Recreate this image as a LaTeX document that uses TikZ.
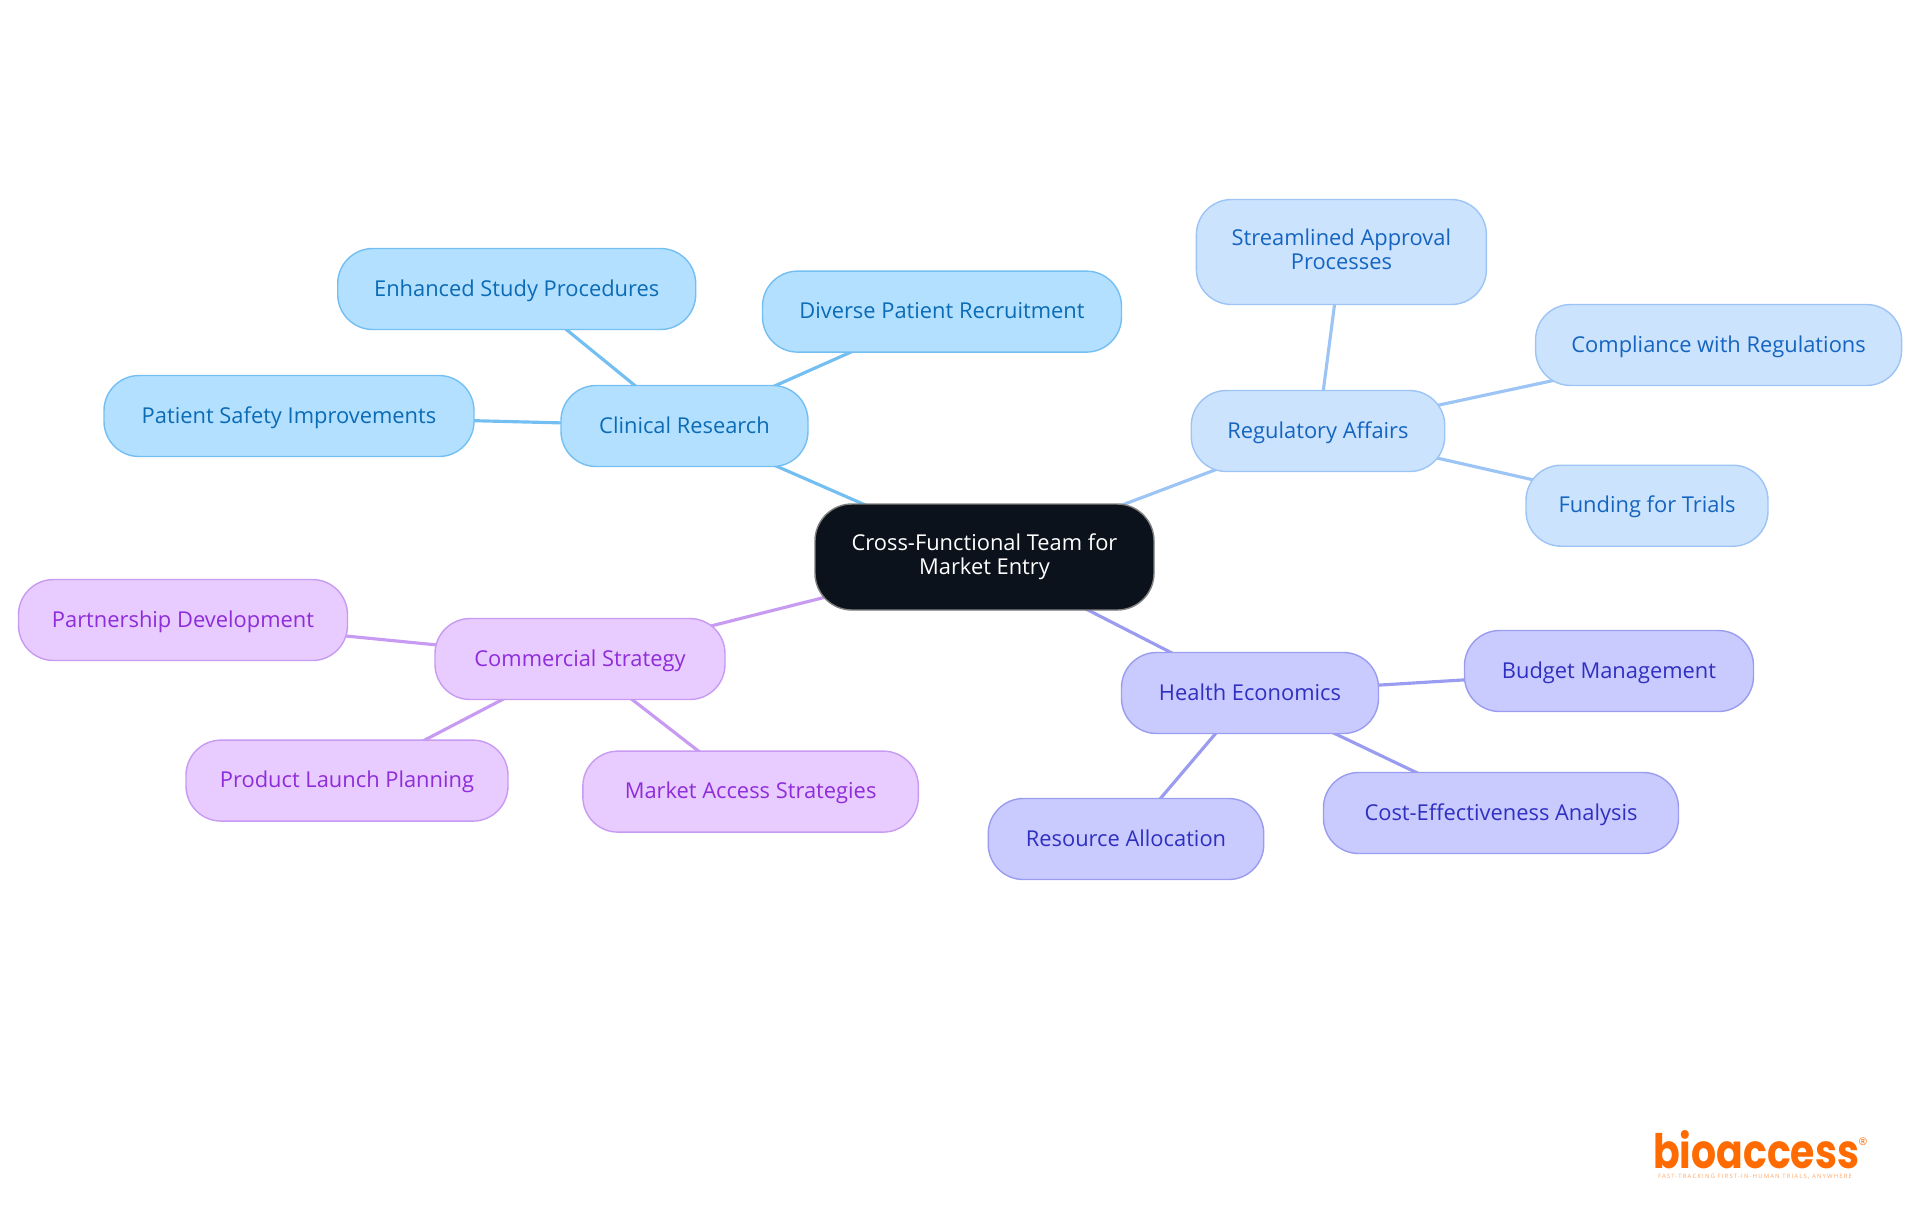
\documentclass[tikz,border=0pt]{standalone}
\usepackage{fontspec}
\setmainfont{Open Sans}
\newfontfamily\logofont{Poppins}[FakeStretch=0.83]
\usetikzlibrary{backgrounds}
\definecolor{bluefill}{HTML}{B3E0FF}
\definecolor{blueline}{HTML}{74BFF2}
\definecolor{bluetext}{HTML}{0B6BB5}
\definecolor{skyfill}{HTML}{CCE3FD}
\definecolor{skyline}{HTML}{9CC4F5}
\definecolor{skytext}{HTML}{1565C0}
\definecolor{indigofill}{HTML}{C9CBFF}
\definecolor{indigoline}{HTML}{9A9CF0}
\definecolor{indigotext}{HTML}{3030C0}
\definecolor{purplefill}{HTML}{E8CBFF}
\definecolor{purpleline}{HTML}{C79BF2}
\definecolor{purpletext}{HTML}{8E2DD9}
\definecolor{rootfill}{HTML}{0B121B}
\definecolor{logocolor}{HTML}{FF6B00}
\tikzset{
	mapnode/.style={draw, line width=0.8pt, rounded corners=20pt, align=center, inner sep=0pt, minimum height=81*0.02cm, font=\fontsize{12.45}{13.8}\selectfont, execute at begin node={\rule{0pt}{11pt}}, execute at end node={\rule[-3pt]{0pt}{3pt}}},
	rootnode/.style={mapnode, fill=rootfill, draw=gray, text=white, rounded corners=21pt, minimum width=339*0.02cm, minimum height=106*0.02cm},
	bluenode/.style={mapnode, fill=bluefill, draw=blueline, text=bluetext},
	skynode/.style={mapnode, fill=skyfill, draw=skyline, text=skytext},
	indigonode/.style={mapnode, fill=indigofill, draw=indigoline, text=indigotext},
	purplenode/.style={mapnode, fill=purplefill, draw=purpleline, text=purpletext},
	link/.style={line width=1.8pt}
}
\begin{document}
\begin{tikzpicture}[x=0.02cm,y=-0.02cm]
	\useasboundingbox (0,0) rectangle (1920,1215);

	%The centre
	\node[rootnode] (root) at (984.5,557) {Cross-Functional Team for\\Market Entry};

	%Clinical research
	\node[bluenode, minimum width=247*0.02cm] (clinical) at (684.5,426) {Clinical Research};
	\node[bluenode, minimum width=358*0.02cm] (enhanced) at (516.7,289) {Enhanced Study Procedures};
	\node[bluenode, minimum width=359*0.02cm] (diverse) at (942,311.6) {Diverse Patient Recruitment};
	\node[bluenode, minimum width=370*0.02cm] (safety) at (289,416) {Patient Safety Improvements};

	%Regulatory affairs
	\node[skynode, minimum width=253.5*0.02cm] (regulatory) at (1318,431) {Regulatory Affairs};
	\node[skynode, minimum width=290*0.02cm, minimum height=105*0.02cm] (streamlined) at (1341.4,252) {Streamlined Approval\\Processes};
	\node[skynode, minimum width=366*0.02cm] (compliance) at (1718.6,345) {Compliance with Regulations};
	\node[skynode, minimum width=242*0.02cm] (funding) at (1647,505.7) {Funding for Trials};

	%Health economics
	\node[indigonode, minimum width=257*0.02cm] (health) at (1250,693) {Health Economics};
	\node[indigonode, minimum width=289*0.02cm] (budget) at (1609,671) {Budget Management};
	\node[indigonode, minimum width=355*0.02cm] (cost) at (1501,813) {Cost-Effectiveness Analysis};
	\node[indigonode, minimum width=275.5*0.02cm] (resource) at (1126,839) {Resource Allocation};

	%Commercial strategy
	\node[purplenode, minimum width=290*0.02cm] (commercial) at (580,659) {Commercial Strategy};
	\node[purplenode, minimum width=329*0.02cm] (partnership) at (183,620) {Partnership Development};
	\node[purplenode, minimum width=322*0.02cm] (product) at (347,780.6) {Product Launch Planning};
	\node[purplenode, minimum width=335.5*0.02cm] (market) at (750.6,791.6) {Market Access Strategies};

	%The links lie under the boxes
	\begin{scope}[on background layer]
		\draw[link, blueline] (root.center) -- (clinical.center);
		\draw[link, blueline] (clinical.center) -- (enhanced.center);
		\draw[link, blueline] (clinical.center) -- (diverse.center);
		\draw[link, blueline] (clinical.center) -- (safety.center);
		\draw[link, skyline] (root.center) -- (regulatory.center);
		\draw[link, skyline] (regulatory.center) -- (streamlined.center);
		\draw[link, skyline] (regulatory.center) -- (compliance.center);
		\draw[link, skyline] (regulatory.center) -- (funding.center);
		\draw[link, indigoline] (root.center) -- (health.center);
		\draw[link, indigoline] (health.center) -- (budget.center);
		\draw[link, indigoline] (health.center) -- (cost.center);
		\draw[link, indigoline] (health.center) -- (resource.center);
		\draw[link, purpleline] (root.center) -- (commercial.center);
		\draw[link, purpleline] (commercial.center) -- (partnership.center);
		\draw[link, purpleline] (commercial.center) -- (product.center);
		\draw[link, purpleline] (commercial.center) -- (market.center);
	\end{scope}

	%The logo
	\node[inner sep=0pt, anchor=base, text=logocolor, font=\logofont\bfseries\fontsize{27}{27}\selectfont] (logo) at (1756,1168) {bioaccess};
	\node[inner sep=0pt, text=logocolor, font=\fontsize{6}{6}\selectfont] (mark) at (1863,1142) {®};
	\node[inner sep=0pt, text=logocolor!60, font=\addfontfeature{LetterSpace=19}\fontsize{3.4}{3.4}\selectfont] (tagline) at (1755,1177) {FAST-TRACKING FIRST-IN-HUMAN TRIALS, ANYWHERE};
\end{tikzpicture}
\end{document}
